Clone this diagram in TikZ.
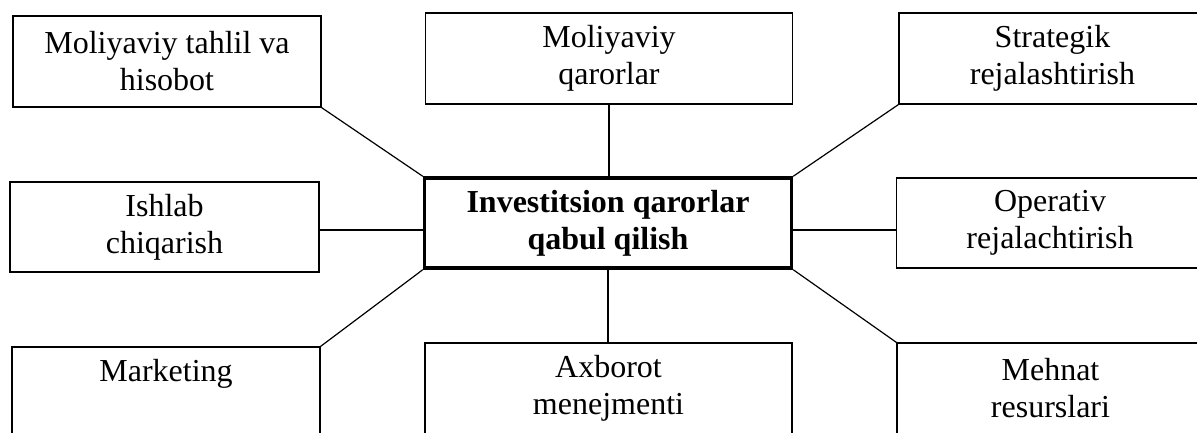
\documentclass[tikz,border=0pt]{standalone}
\usepackage{fontspec}
\setmainfont{Liberation Serif}
\begin{document}
\begin{tikzpicture}[x=1pt,y=-1pt]
      \tikzset{box/.style={draw, line width=1.2pt, rectangle, inner sep=0pt, align=center, minimum height=91pt, font=\fontsize{32}{37}\selectfont}}
      \tikzset{mainbox/.style={box, line width=3.4pt, minimum width=367pt, minimum height=90pt, font=\fontsize{32}{37}\selectfont\bfseries}}
      \useasboundingbox (0,0) rectangle (1197,432);
%% Boxes
	%centre
      	\node[mainbox] (inv) at (608,223) {Investitsion qarorlar\\qabul qilish};
	%top row
      	\node[box, minimum width=308pt] (tahlil) at (167,61.5) {Moliyaviy tahlil va\\hisobot};
      	\node[box, minimum width=367pt] (qaror) at (609,58.5) {Moliyaviy\\qarorlar};
      	\node[box, minimum width=307pt] (strat) at (1052.5,58.5) {Strategik\\rejalashtirish};
	%middle row
      	\node[box, minimum width=309pt, minimum height=90pt] (ishlab) at (164.5,227) {Ishlab\\chiqarish};
      	\node[box, minimum width=307pt, minimum height=90pt] (oper) at (1050,223) {Operativ\\rejalachtirish};
	%bottom row
      	\node[box, minimum width=308pt] (mark) at (166,392.5) {Marketing\\\vphantom{p}};
      	\node[box, minimum width=367pt] (axb) at (608.5,388.5) {Axborot\\menejmenti};
      	\node[box, minimum width=307pt] (mehnat) at (1050.5,388.5) {Mehnat\\resurslari};
%% Edges
      	\coordinate (hl) at (0,230);
		\path [line width=1.2pt] (tahlil.south east) edge (inv.north west);
		\path [line width=1.2pt] (qaror.south) edge (qaror.south |- inv.north);
		\path [line width=1.2pt] (strat.south west) edge (inv.north east);
		\path [line width=1.2pt] (ishlab.east |- hl) edge (inv.west |- hl);
		\path [line width=1.2pt] (oper.west |- hl) edge (inv.east |- hl);
		\path [line width=1.2pt] (inv.south west) edge (mark.north east);
		\path [line width=1.2pt] (inv.south) edge (inv.south |- axb.north);
		\path [line width=1.2pt] (inv.south east) edge (mehnat.north west);

	\end{tikzpicture}
\end{document}
